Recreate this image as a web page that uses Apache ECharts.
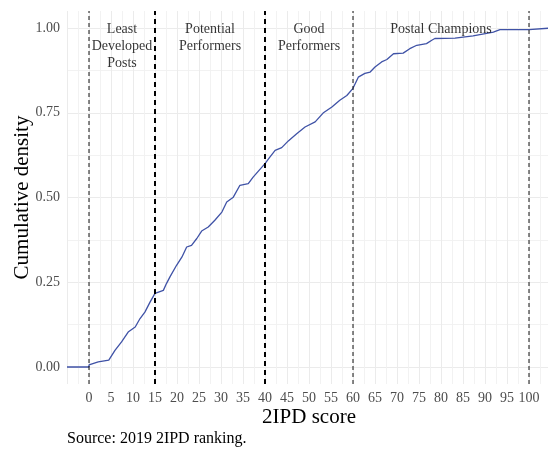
<!DOCTYPE html>
<html>
<head>
<meta charset="utf-8">
<script src="https://cdn.jsdelivr.net/npm/echarts@6/dist/echarts.min.js"></script>
<style>
  html, body { margin: 0; padding: 0; background: #fff; }
  #main { width: 548px; height: 452px; }
</style>
</head>
<body>
<div id="main"></div>
<script>
// cumulative share of posts by 2IPD score
var scoreX = [-5, 0, 0, 2.1, 2.5, 4.5, 5.9, 7.4, 8.9, 10.5, 11.6, 12.7, 13.9, 15,
  16.9, 17.6, 18.4, 19.9, 21.1, 22.2, 23.3, 24.5, 25.6, 27.1, 28.6, 30.2, 31.3,
  32.8, 34.3, 36.2, 37.3, 38.5, 40, 41.1, 42.3, 43.8, 45.3, 47.2, 49.1, 51.4,
  53.2, 55.2, 57, 58.6, 60, 61.2, 62.7, 63.9, 65, 66.5, 67.7, 69.2, 71.4, 72.9,
  74.5, 76.7, 77.9, 78.6, 83.2, 87.3, 91.9, 93.4, 100, 100, 105];
var cumDensity = [0, 0, 0.006, 0.015, 0.02, 0.02, 0.049, 0.074, 0.103, 0.118, 0.143, 0.162, 0.192, 0.217,
  0.226, 0.246, 0.266, 0.30, 0.324, 0.354, 0.359, 0.379, 0.401, 0.413, 0.433, 0.457, 0.487,
  0.501, 0.536, 0.541, 0.560, 0.578, 0.600, 0.619, 0.639, 0.647, 0.667, 0.688, 0.708, 0.723,
  0.749, 0.767, 0.787, 0.801, 0.822, 0.855, 0.866, 0.870, 0.885, 0.900, 0.907, 0.924, 0.926, 0.939,
  0.949, 0.954, 0.964, 0.969, 0.970, 0.977, 0.988, 0.995, 0.995, 1, 1];

// group cut-offs
var cutoffs = [0, 15, 40, 60, 100];
var boldCutoffs = [15, 40];

// group names, placed at the middle of each band
var groupNames = ['Least\nDeveloped\nPosts', 'Potential\nPerformers', 'Good\nPerformers', 'Postal Champions'];
var groupMid = [7.5, 27.5, 50, 80];

var FONT = 'Liberation Serif';
var chart = echarts.init(document.getElementById('main'), null, { renderer: 'canvas' });

var seriesList = [];

seriesList.push({
  type: 'line',
  xAxisIndex: 1,
  yAxisIndex: 1,
  data: scoreX.map(function (x, i) { return [x, cumDensity[i]]; }),
  showSymbol: false,
  clip: false,
  lineStyle: { color: '#3F52A6', width: 1.3 },
  z: 2
});

cutoffs.forEach(function (c) {
  var bold = boldCutoffs.indexOf(c) >= 0;
  seriesList.push({
    type: 'line',
    xAxisIndex: 0,
    yAxisIndex: 0,
    data: [[c, -0.05], [c, 1.05]],
    showSymbol: false,
    silent: true,
    lineStyle: {
      color: bold ? '#000' : '#111',
      width: bold ? 2 : 1,
      type: bold ? [5, 4] : [4, 3]
    },
    z: 3
  });
});

seriesList.push({
  type: 'scatter',
  xAxisIndex: 1,
  yAxisIndex: 1,
  symbolSize: 0,
  silent: true,
  data: groupNames.map(function (n, i) { return { name: n, value: [groupMid[i], 1] }; }),
  label: {
    show: true,
    position: 'inside',
    formatter: '{b}',
    align: 'center',
    verticalAlign: 'top',
    offset: [0, -7],
    fontFamily: FONT,
    fontSize: 14,
    lineHeight: 17,
    color: '#000'
  },
  z: 4
});

var option = {
  animation: false,
  backgroundColor: '#fff',
  title: {
    text: 'Source: 2019 2IPD ranking.',
    left: 67,
    top: 431,
    padding: 0,
    textStyle: { fontFamily: FONT, fontSize: 16, fontWeight: 'normal', color: '#000' }
  },
  grid: [
    { left: 67, top: 11, width: 484, height: 373, outerBoundsMode: 'none', containLabel: false },
    { left: 67, top: 28, width: 484, height: 339, outerBoundsMode: 'none', containLabel: false }
  ],
  xAxis: [{
    gridIndex: 0,
    type: 'value',
    min: -5,
    max: 105,
    interval: 5,
    axisLine: { show: false },
    axisTick: { show: false },
    axisLabel: {
      margin: 7,
      fontFamily: FONT,
      fontSize: 14,
      color: '#4d4d4d',
      formatter: function (v) { return (v < 0 || v > 100) ? '' : String(v); }
    },
    splitLine: { show: true, lineStyle: { color: '#ebebeb', width: 1 } },
    minorTick: { show: false, splitNumber: 2 },
    minorSplitLine: { show: true, lineStyle: { color: '#f0f0f0', width: 0.9 } },
    name: '2IPD score',
    nameLocation: 'middle',
    nameGap: 23,
    nameMoveOverlap: false,
    nameTextStyle: { fontFamily: FONT, fontSize: 21, color: '#000' }
  }, {
    gridIndex: 1,
    type: 'value',
    min: -5,
    max: 105,
    show: false
  }],
  yAxis: [{
    gridIndex: 0,
    type: 'value',
    min: -0.05,
    max: 1.05,
    show: false
  }, {
    gridIndex: 1,
    type: 'value',
    min: 0,
    max: 1,
    interval: 0.25,
    axisLine: { show: false },
    axisTick: { show: false },
    axisLabel: {
      margin: 7,
      fontFamily: FONT,
      fontSize: 14,
      color: '#4d4d4d',
      formatter: function (v) { return v.toFixed(2); }
    },
    splitLine: { show: true, lineStyle: { color: '#ebebeb', width: 1 } },
    minorTick: { show: false, splitNumber: 2 },
    minorSplitLine: { show: true, lineStyle: { color: '#f0f0f0', width: 0.9 } },
    name: 'Cumulative density',
    nameLocation: 'middle',
    nameGap: 34,
    nameMoveOverlap: false,
    nameTextStyle: { fontFamily: FONT, fontSize: 21, color: '#000' }
  }],
  series: seriesList
};

chart.setOption(option);
</script>
</body>
</html>
